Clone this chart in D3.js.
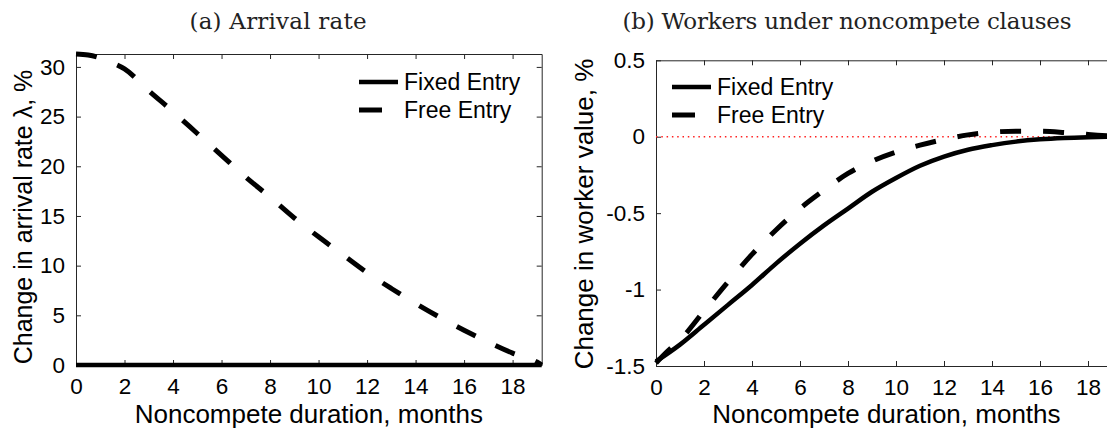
<!DOCTYPE html>
<html>
<head>
<meta charset="utf-8">
<script src="https://cdn.jsdelivr.net/npm/d3@7"></script>
<style>
  body { margin: 0; background: #fff; }
  svg { display: block; }
  .tick text { font-family: "Liberation Sans", Arial, sans-serif; font-size: 22.5px; fill: #000; }
  .axis path, .axis line { stroke: #262626; stroke-width: 1; }
  .label { font-family: "Liberation Sans", Arial, sans-serif; font-size: 26px; fill: #000; }
  .legend text { font-family: "Liberation Sans", Arial, sans-serif; font-size: 23px; fill: #000; }
  .title { font-family: "DejaVu Serif", "Liberation Serif", serif; font-size: 23px; fill: #222; }
</style>
</head>
<body>
<div class="svg-container"></div>
<script>
// ---- data ----
const monthTicks = [0, 2, 4, 6, 8, 10, 12, 14, 16, 18];

// (a) arrival rate, % change
const arrivalMonths = [0, 0.5, 1, 1.5, 2, 3, 4, 5, 6, 7, 8, 9, 10, 11, 12, 13, 14, 15, 16, 17, 18, 19, 19.2];
const arrivalFree   = [31.3, 31.2, 30.9, 30.4, 29.8, 27.6, 25.5, 23.3, 21.1, 18.9, 16.9, 14.8, 12.9, 11.1, 9.3, 7.7, 6.2, 4.8, 3.5, 2.3, 1.2, 0.3, 0];
const arrivalFixed  = [0, 0, 0, 0, 0, 0, 0, 0, 0, 0, 0, 0, 0, 0, 0, 0, 0, 0, 0, 0, 0, 0, 0];
const arrivalTicks  = [0, 5, 10, 15, 20, 25, 30];

// (b) worker value, % change
const workerMonthsFixed = [0, 1, 2, 3, 4, 5, 6, 7, 8, 9, 10, 11, 12, 13, 14, 15, 16, 17, 18, 19.2];
const workerFixed = [-1.47, -1.36, -1.23, -1.10, -0.97, -0.83, -0.70, -0.58, -0.47, -0.36, -0.27, -0.19, -0.13, -0.085, -0.055, -0.032, -0.017, -0.008, -0.003, 0];
const workerMonthsFree = [0, 0.5, 1, 2, 3, 4, 5, 6, 7, 8, 9, 10, 11, 12, 13, 14, 15, 16, 17, 18, 19, 19.2];
const workerFree = [-1.48, -1.40, -1.33, -1.14, -0.95, -0.77, -0.61, -0.47, -0.35, -0.24, -0.16, -0.10, -0.055, -0.018, 0.012, 0.030, 0.036, 0.036, 0.028, 0.015, 0.003, 0];
const workerTicks = [-1.5, -1, -0.5, 0, 0.5];
const workerTickLabels = ["-1.5", "-1", "-0.5", "0", "0.5"];

const seriesNames = ["Fixed Entry", "Free Entry"];
const titles = ["(a) Arrival rate", "(b) Workers under noncompete clauses"];

// ---- drawing ----
const width = 1107, height = 430;
const svg = d3.select(".svg-container").append("svg")
  .attr("width", width)
  .attr("height", height);

const solidW = 4.5, dashW = 5, dashPattern = "21,22";

function drawPanel(opt) {
  let x = d3.scaleLinear().domain([0, 19.2]).range([opt.left, opt.right]);
  let y = d3.scaleLinear().domain(opt.yDomain).range([opt.bottom, opt.top]);

  // frame + inward ticks on all sides
  svg.append("g").attr("class", "axis")
    .attr("transform", "translate(0," + opt.bottom + ")")
    .call(d3.axisBottom(x).tickValues(monthTicks).tickSizeInner(-5).tickSizeOuter(0).tickPadding(13)
      .tickFormat(d3.format("d")));
  svg.append("g").attr("class", "axis")
    .attr("transform", "translate(0," + opt.top + ")")
    .call(d3.axisTop(x).tickValues(monthTicks).tickSizeInner(-5).tickSizeOuter(0).tickFormat(""));
  svg.append("g").attr("class", "axis")
    .attr("transform", "translate(" + opt.left + ",0)")
    .call(d3.axisLeft(y).tickValues(opt.yTicks).tickSizeInner(-5).tickSizeOuter(0).tickPadding(11)
      .tickFormat((d, i) => opt.yLabels[i]));
  svg.append("g").attr("class", "axis")
    .attr("transform", "translate(" + opt.right + ",0)")
    .call(d3.axisRight(y).tickValues(opt.yTicks).tickSizeInner(-5).tickSizeOuter(0).tickFormat(""));

  // zero reference line
  if (opt.zeroLine) {
    svg.append("line")
      .attr("x1", x(0)).attr("x2", x(19.2))
      .attr("y1", y(0)).attr("y2", y(0))
      .attr("stroke", "#ff2020")
      .attr("stroke-width", 1.3)
      .attr("stroke-dasharray", "1.5,3.8");
  }

  let line = d3.line()
    .x(d => x(d[0]))
    .y(d => y(d[1]))
    .curve(d3.curveMonotoneX);

  svg.append("path")
    .datum(d3.zip(opt.fixedX, opt.fixedY))
    .attr("d", line)
    .attr("fill", "none")
    .attr("stroke", "#000")
    .attr("stroke-width", solidW);

  svg.append("path")
    .datum(d3.zip(opt.freeX, opt.freeY))
    .attr("d", line)
    .attr("fill", "none")
    .attr("stroke", "#000")
    .attr("stroke-width", dashW)
    .attr("stroke-dasharray", dashPattern);

  // axis labels
  svg.append("text")
    .attr("class", "label")
    .attr("x", (opt.left + opt.xLabelRight) / 2)
    .attr("y", 423)
    .style("text-anchor", "middle")
    .text("Noncompete duration, months");

  svg.append("text")
    .attr("class", "label")
    .attr("transform", "translate(" + opt.yLabelX + "," + opt.yLabelY + ") rotate(-90)")
    .style("text-anchor", "middle")
    .style("font-size", opt.yLabelSize + "px")
    .text(opt.yLabel);

  // title
  svg.append("text")
    .attr("class", "title")
    .attr("x", opt.titleX)
    .attr("y", 29)
    .attr("textLength", opt.titleW)
    .attr("lengthAdjust", "spacing")
    .style("text-anchor", "middle")
    .text(opt.title);

  // legend
  let legend = svg.append("g").attr("class", "legend");
  legend.append("line")
    .attr("x1", opt.legX).attr("x2", opt.legX + 39)
    .attr("y1", opt.legY).attr("y2", opt.legY)
    .attr("stroke", "#000").attr("stroke-width", solidW);
  legend.append("line")
    .attr("x1", opt.legX).attr("x2", opt.legX + 23)
    .attr("y1", opt.legY + 28).attr("y2", opt.legY + 28)
    .attr("stroke", "#000").attr("stroke-width", dashW);
  legend.selectAll("text")
    .data(seriesNames)
    .enter().append("text")
    .attr("x", opt.legX + 45)
    .attr("y", (d, i) => opt.legY + i * 28)
    .attr("dy", ".35em")
    .text(d => d);
}

drawPanel({
  left: 76, right: 541.7, top: 54, bottom: 365,
  yDomain: [0, 31.3], yTicks: arrivalTicks, yLabels: arrivalTicks.map(String),
  fixedX: arrivalMonths, fixedY: arrivalFixed,
  freeX: arrivalMonths, freeY: arrivalFree,
  zeroLine: false,
  xLabelRight: 541.7,
  yLabel: "Change in arrival rate \u03bb, %", yLabelX: 32, yLabelY: 217, yLabelSize: 25,
  title: titles[0], titleX: 278, titleW: 177,
  legX: 359, legY: 82
});

drawPanel({
  left: 656, right: 656 + 19.2 * 24, top: 60.3, bottom: 366,
  yDomain: [-1.5, 0.5], yTicks: workerTicks, yLabels: workerTickLabels,
  fixedX: workerMonthsFixed, fixedY: workerFixed,
  freeX: workerMonthsFree, freeY: workerFree,
  zeroLine: true,
  xLabelRight: 656 + 19.2 * 24,
  yLabel: "Change in worker value, %", yLabelX: 593, yLabelY: 214, yLabelSize: 26,
  title: titles[1], titleX: 847, titleW: 449,
  legX: 672, legY: 87
});
</script>
</body>
</html>
